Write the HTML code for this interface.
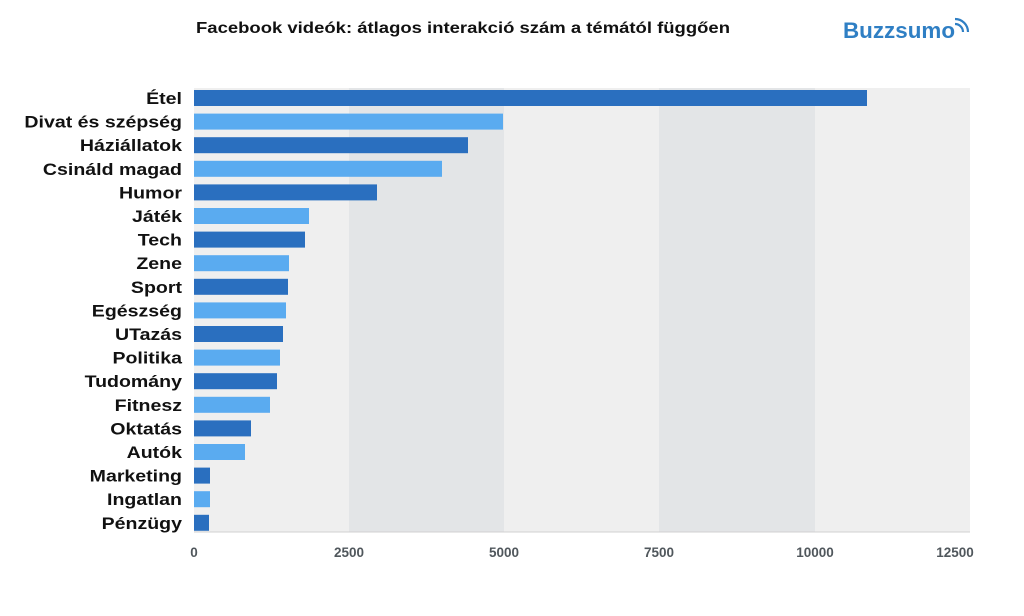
<!DOCTYPE html><html><head><meta charset="utf-8"><style>body{margin:0;background:#fff}svg{display:block}</style></head><body>
<svg width="1024" height="616" xmlns="http://www.w3.org/2000/svg" font-family="Liberation Sans, sans-serif">
<text x="196" y="33" textLength="534" lengthAdjust="spacingAndGlyphs" font-size="16" font-weight="bold" fill="#111">Facebook videók: átlagos interakció szám a témától függően</text>
<text x="843" y="38" textLength="112" lengthAdjust="spacingAndGlyphs" font-size="22" font-weight="bold" fill="#2f7fc4">Buzzsumo</text>
<g fill="none" stroke="#2f7fc4" stroke-width="2.2"><path d="M955 24 a8 8 0 0 1 8 8"/><path d="M955 19 a13 13 0 0 1 13 13"/></g>
<rect x="194" y="88" width="155" height="444" fill="#efefef"/>
<rect x="349" y="88" width="155" height="444" fill="#e3e5e7"/>
<rect x="504" y="88" width="155" height="444" fill="#efefef"/>
<rect x="659" y="88" width="156" height="444" fill="#e3e5e7"/>
<rect x="815" y="88" width="155" height="444" fill="#efefef"/>
<line x1="194" y1="532" x2="970" y2="532" stroke="#d0d0d0"/>
<g font-size="13.5" font-weight="bold" fill="#50575c" text-anchor="middle">
<text x="194" y="557">0</text><text x="349" y="557">2500</text><text x="504" y="557">5000</text><text x="659" y="557">7500</text><text x="815" y="557">10000</text><text x="955" y="557">12500</text></g>
<g id="bars"></g>
<g id="labels" font-size="17" font-weight="bold" fill="#111" text-anchor="end"></g>
<script>
var d=[["Étel",867],["Divat és szépség",503],["Háziállatok",468],["Csinált magad",442],["Humor",377],["Játék",309],["Tech",305],["Zene",289],["Sport",288],["Egészség",286],["UTazás",283],["Politika",280],["Tudomány",277],["Fitnesz",270],["Oktatás",251],["Autók",245],["Marketing",210],["Ingatlan",210],["Pénzügy",209]];
d[3][0]="Csináld magad";
var b=document.getElementById("bars"),l=document.getElementById("labels"),ns="http://www.w3.org/2000/svg";
d.forEach(function(r,i){var y=98+i*23.6;var e=document.createElementNS(ns,"rect");e.setAttribute("x",194);e.setAttribute("y",y-8);e.setAttribute("width",r[1]-194);e.setAttribute("height",16);e.setAttribute("fill",i%2?"#5aabf0":"#2a6fbf");b.appendChild(e);
var t=document.createElementNS(ns,"text");t.setAttribute("x",182);t.setAttribute("y",y+6);t.textContent=r[0];l.appendChild(t);
var w=t.getComputedTextLength();t.setAttribute("textLength",w*1.15);t.setAttribute("lengthAdjust","spacingAndGlyphs");});
</script>
</svg></body></html>
